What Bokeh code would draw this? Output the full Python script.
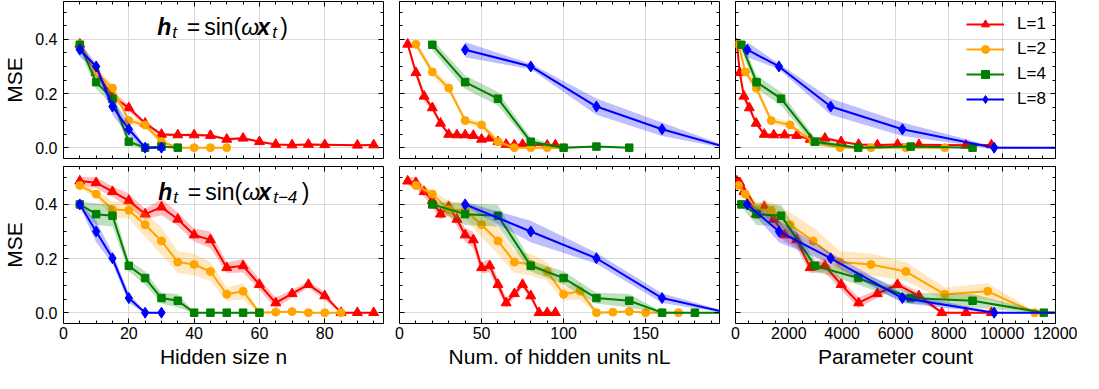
from bokeh.plotting import figure
from bokeh.layouts import gridplot
from bokeh.models import (Range1d, FixedTicker, LinearAxis, Label, Legend,
                          LegendItem, PrintfTickFormatter, ColumnDataSource)
from bokeh.embed import file_html
from bokeh.resources import INLINE

FONT = "Liberation Sans"

# ---------------- data ----------------
SERIES_LABELS = ["L=1", "L=2", "L=4", "L=8"]
LAYERS = [1, 2, 4, 8]
COLORS = ["#ff0000", "#ffa500", "#008000", "#0000ff"]
MARKERS = ["triangle", "circle", "square", "diamond"]
MARKER_SIZES = [10, 8, 7.5, 11]

# parameter count for each hidden size n
PARAM_N_L1 = [5, 10, 15, 20, 25, 30, 35, 40, 45, 50, 55, 60, 65, 70, 75, 80, 85, 90, 95]
PARAM_COUNT_L1 = [55, 160, 315, 520, 775, 1080, 1435, 1840, 2295, 2800, 3355, 3960,
                  4615, 5320, 6075, 6880, 7735, 8640, 9595]
PARAM_N_L2 = [5, 10, 15, 20, 25, 30, 35, 40, 45, 50, 55, 60, 65, 70, 75, 80, 85]
PARAM_COUNT_L2 = [110, 370, 780, 1340, 2050, 2910, 3920, 5080, 6390, 7850, 9460, 11220,
                  13130, 15190, 17400, 19760, 22270]
PARAM_N_L4 = [5, 10, 15, 20, 25, 30, 35, 40, 45, 50, 55, 60]
PARAM_COUNT_L4 = [220, 790, 1710, 2980, 4600, 6570, 8890, 11560, 14580, 17950, 21670, 25740]
PARAM_N_L8 = [5, 10, 15, 20, 25, 30]
PARAM_COUNT_L8 = [440, 1630, 3570, 6260, 9700, 13890]

# task 1: h_t = sin(w x_t)
T1_N_L1 = [5, 10, 15, 20, 25, 30, 35, 40, 45, 50, 55, 60, 65, 70, 75, 80, 90, 95]
T1_MSE_L1 = [0.382, 0.277, 0.190, 0.147, 0.090, 0.049, 0.047, 0.047, 0.045, 0.031, 0.035,
             0.022, 0.012, 0.010, 0.012, 0.011, 0.009, 0.010]
T1_STD_L1 = [0.010, 0.015, 0.018, 0.012, 0.008, 0.006, 0.005, 0.005, 0.005, 0.005, 0.005,
             0.004, 0.003, 0.003, 0.003, 0.003, 0.003, 0.003]
T1_N_L2 = [5, 10, 15, 20, 25, 30, 35, 40, 45, 50]
T1_MSE_L2 = [0.382, 0.280, 0.220, 0.100, 0.084, 0.022, 0.000, 0.000, 0.000, 0.000]
T1_STD_L2 = [0.012, 0.015, 0.015, 0.012, 0.012, 0.012, 0.004, 0.002, 0.002, 0.002]
T1_N_L4 = [5, 10, 15, 20, 25, 30, 35]
T1_MSE_L4 = [0.380, 0.242, 0.181, 0.022, 0.000, 0.004, 0.000]
T1_STD_L4 = [0.020, 0.025, 0.025, 0.015, 0.004, 0.003, 0.002]
T1_N_L8 = [5, 10, 15, 20, 25, 30]
T1_MSE_L8 = [0.362, 0.300, 0.152, 0.068, 0.000, 0.000]
T1_STD_L8 = [0.028, 0.010, 0.030, 0.025, 0.004, 0.002]

# task 2: h_t = sin(w x_{t-4})
T2_N_L1 = [5, 10, 15, 20, 25, 30, 35, 40, 45, 50, 55, 60, 65, 70, 75, 80, 85, 90, 95]
T2_MSE_L1 = [0.486, 0.480, 0.447, 0.414, 0.364, 0.390, 0.345, 0.287, 0.269, 0.166, 0.173,
             0.104, 0.036, 0.070, 0.104, 0.062, 0.000, 0.000, 0.000]
T2_STD_L1 = [0.015, 0.020, 0.020, 0.025, 0.020, 0.030, 0.025, 0.025, 0.030, 0.020, 0.025,
             0.020, 0.020, 0.015, 0.012, 0.015, 0.003, 0.002, 0.002]
T2_N_L2 = [5, 10, 15, 20, 25, 30, 35, 40, 45, 50, 55, 60, 65, 70, 75, 80, 85]
T2_MSE_L2 = [0.470, 0.438, 0.381, 0.378, 0.325, 0.265, 0.187, 0.178, 0.152, 0.068, 0.079,
             0.000, 0.002, 0.004, 0.000, 0.000, 0.000]
T2_STD_L2 = [0.010, 0.015, 0.030, 0.030, 0.045, 0.050, 0.040, 0.040, 0.035, 0.025, 0.030,
             0.005, 0.004, 0.003, 0.002, 0.002, 0.002]
T2_N_L4 = [5, 10, 15, 20, 25, 30, 35, 40, 45, 50, 55, 60]
T2_MSE_L4 = [0.400, 0.364, 0.358, 0.173, 0.128, 0.054, 0.044, 0.000, 0.000, 0.000, 0.000, 0.000]
T2_STD_L4 = [0.010, 0.040, 0.040, 0.020, 0.025, 0.020, 0.025, 0.003, 0.002, 0.002, 0.002, 0.002]
T2_N_L8 = [5, 10, 15, 20, 25, 30]
T2_MSE_L8 = [0.400, 0.300, 0.201, 0.054, 0.000, 0.000]
T2_STD_L8 = [0.008, 0.040, 0.020, 0.018, 0.003, 0.002]

# axes
Y_RANGE = (-0.04, 0.54)
Y_MAJOR = [0.0, 0.2, 0.4]
Y_MINOR = [0.05, 0.1, 0.15, 0.25, 0.3, 0.35, 0.45, 0.5]
X_RANGES = [(0, 98), (0, 195), (0, 12000)]
X_MAJOR = [[0, 20, 40, 60, 80], [0, 50, 100, 150],
           [0, 2000, 4000, 6000, 8000, 10000, 12000]]
X_MINOR = [list(range(5, 98, 5)), list(range(10, 195, 10)), list(range(500, 12000, 500))]
X_LABELS = ["Hidden size n", "Num. of hidden units nL", "Parameter count"]

# ---------------- layout ----------------
FRAME_W = 320
FRAME_H = 157
BORDER_L = [60, 8, 8]
BORDER_R = [8, 8, 22]
BORDER_T = [1, 4]
BORDER_B = [4, 46]

PARAM_N = [PARAM_N_L1, PARAM_N_L2, PARAM_N_L4, PARAM_N_L8]
PARAM_COUNT = [PARAM_COUNT_L1, PARAM_COUNT_L2, PARAM_COUNT_L4, PARAM_COUNT_L8]
TASKS = [
    [(T1_N_L1, T1_MSE_L1, T1_STD_L1), (T1_N_L2, T1_MSE_L2, T1_STD_L2),
     (T1_N_L4, T1_MSE_L4, T1_STD_L4), (T1_N_L8, T1_MSE_L8, T1_STD_L8)],
    [(T2_N_L1, T2_MSE_L1, T2_STD_L1), (T2_N_L2, T2_MSE_L2, T2_STD_L2),
     (T2_N_L4, T2_MSE_L4, T2_STD_L4), (T2_N_L8, T2_MSE_L8, T2_STD_L8)],
]

TITLE_PIECES = [
    [("h", "bold italic", 0, 0, "23px"), ("t", "italic", 15, -5, "17px"),
     ("=", "normal", 29.5, 0, "23px"), ("sin(", "normal", 47, 0, "23px"),
     ("ω", "italic", 84, 0, "23px"), ("x", "bold italic", 100, 0, "23px"),
     ("t", "italic", 115, -5, "17px"), (")", "normal", 123, 0, "23px")],
    [("h", "bold italic", 0, 0, "23px"), ("t", "italic", 15, -5, "17px"),
     ("=", "normal", 29.5, 0, "23px"), ("sin(", "normal", 47, 0, "23px"),
     ("ω", "italic", 84, 0, "23px"), ("x", "bold italic", 100, 0, "23px"),
     ("t−4", "italic", 115, -5, "17px"), (")", "normal", 143.5, 0, "23px")],
]
TITLE_X = [28.7, 29.0]
TITLE_Y = 0.445


def style_axis(ax, show):
    ax.axis_line_color = None
    ax.major_tick_in = 5
    ax.major_tick_out = 0
    ax.minor_tick_in = 3
    ax.minor_tick_out = 0
    ax.major_tick_line_color = "black"
    ax.minor_tick_line_color = "black"
    ax.major_label_text_font = FONT
    if show:
        ax.major_label_text_font_size = "16px"
        ax.major_label_text_color = "black"
    else:
        ax.major_label_text_font_size = "1px"
        ax.major_label_text_color = None
        ax.major_label_standoff = 0


def make_panel(row, col):
    p = figure(frame_width=FRAME_W, frame_height=FRAME_H, title=None,
               x_range=Range1d(*X_RANGES[col]), y_range=Range1d(*Y_RANGE),
               output_backend="svg", toolbar_location=None,
               min_border_left=BORDER_L[col], min_border_right=BORDER_R[col],
               min_border_top=BORDER_T[row], min_border_bottom=BORDER_B[row])
    p.add_layout(LinearAxis(), "above")
    p.add_layout(LinearAxis(), "right")
    p.background_fill_color = "white"
    p.border_fill_color = "white"
    p.outline_line_color = "black"
    p.outline_line_width = 1

    for ax in p.xaxis:
        ax.ticker = FixedTicker(ticks=X_MAJOR[col], minor_ticks=X_MINOR[col])
    for ax in p.yaxis:
        ax.ticker = FixedTicker(ticks=Y_MAJOR, minor_ticks=Y_MINOR)
        ax.formatter = PrintfTickFormatter(format="%.1f")
    for ax in p.above + p.right:
        style_axis(ax, False)
    style_axis(p.below[0], row == 1)
    style_axis(p.left[0], col == 0)
    if row == 1:
        b = p.below[0]
        b.major_label_standoff = 3
        b.axis_label = X_LABELS[col]
        b.axis_label_text_font = FONT
        b.axis_label_text_font_size = "21px"
        b.axis_label_text_font_style = "normal"
        b.axis_label_text_color = "black"
        b.axis_label_standoff = 3
    if col == 0:
        lft = p.left[0]
        lft.major_label_standoff = 6
        lft.axis_label = "MSE"
        lft.axis_label_text_font = FONT
        lft.axis_label_text_font_size = "21px"
        lft.axis_label_text_font_style = "normal"
        lft.axis_label_text_color = "black"
        lft.axis_label_standoff = 6

    p.xgrid.ticker = FixedTicker(ticks=X_MAJOR[col])
    p.ygrid.ticker = FixedTicker(ticks=Y_MAJOR)
    p.xgrid.grid_line_color = "#d9d9d9"
    p.ygrid.grid_line_color = "#d9d9d9"

    items = []
    for i, L in enumerate(LAYERS):
        ns, mse, std = TASKS[row][i]
        if col == 0:
            xs = list(ns)
        elif col == 1:
            xs = [n * L for n in ns]
        else:
            lookup = dict(zip(PARAM_N[i], PARAM_COUNT[i]))
            xs = [lookup[n] for n in ns]
        src = ColumnDataSource(dict(
            x=xs, y=mse,
            lo=[m - s for m, s in zip(mse, std)],
            hi=[m + s for m, s in zip(mse, std)]))
        p.varea(x="x", y1="lo", y2="hi", source=src,
                fill_color=COLORS[i], fill_alpha=0.25)
        lr = p.line("x", "y", source=src, line_color=COLORS[i], line_width=2)
        sr = p.scatter("x", "y", source=src, marker=MARKERS[i], size=MARKER_SIZES[i],
                       fill_color=COLORS[i], line_color=COLORS[i])
        items.append(LegendItem(label=SERIES_LABELS[i], renderers=[lr, sr]))

    if row == 0 and col == 2:
        leg = Legend(items=items, location=(226, 44))
        leg.label_text_font = FONT
        leg.label_text_font_size = "17px"
        leg.label_text_color = "black"
        leg.glyph_width = 38
        leg.glyph_height = 20
        leg.label_height = 20
        leg.label_standoff = 13
        leg.spacing = 5
        leg.padding = 5
        leg.margin = 0
        leg.border_line_alpha = 0
        leg.background_fill_alpha = 0
        p.add_layout(leg)

    if col == 0:
        for text, style, dx, dy, size in TITLE_PIECES[row]:
            p.add_layout(Label(x=TITLE_X[row], y=TITLE_Y, x_offset=dx, y_offset=dy,
                               text=text, text_font=FONT, text_font_size=size,
                               text_font_style=style, text_color="black",
                               text_align="left", text_baseline="alphabetic"))
    return p


rows = [[make_panel(r, c) for c in range(3)] for r in range(2)]
grid = gridplot(rows, toolbar_location=None)

open("out.html", "w").write(file_html(grid, INLINE))
